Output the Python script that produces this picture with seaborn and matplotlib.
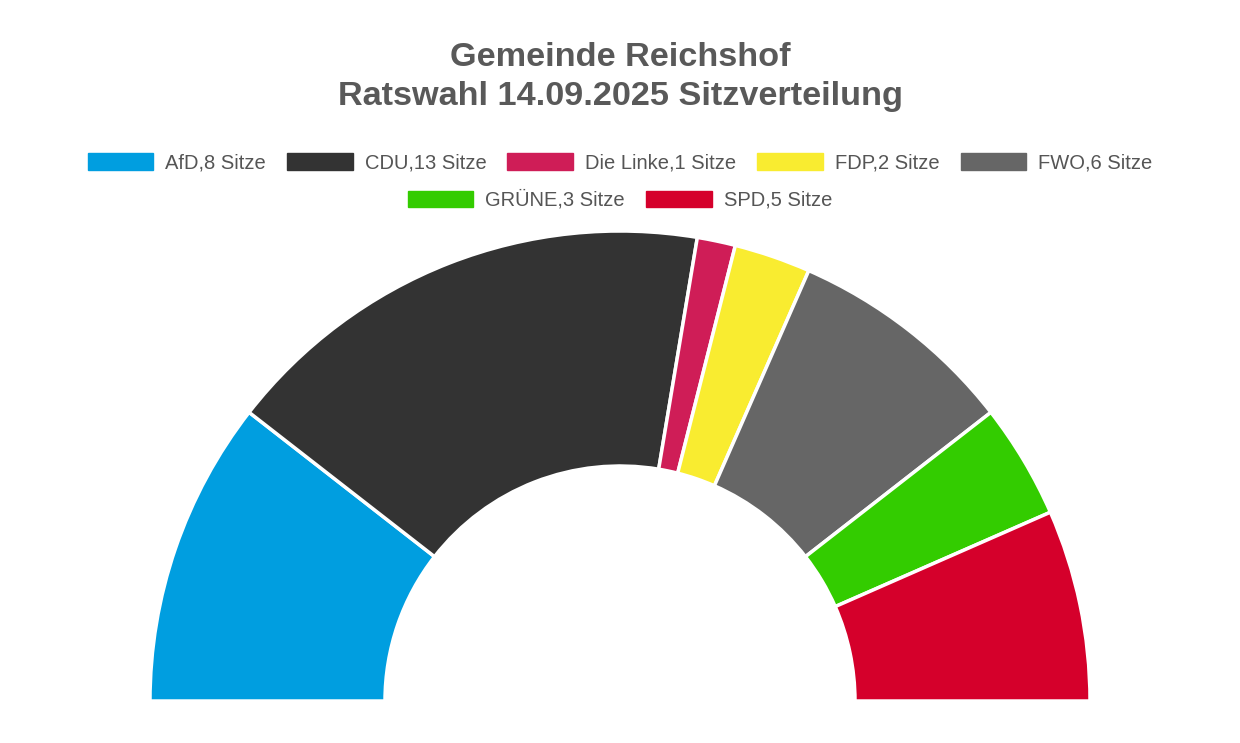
import matplotlib
matplotlib.use('Agg')
import matplotlib.pyplot as plt
import matplotlib.patches as mpatches
import seaborn as sns

# Seat distribution
parties = ['AfD', 'CDU', 'Die Linke', 'FDP', 'FWO', 'GRÜNE', 'SPD']
seats = [8, 13, 1, 2, 6, 3, 5]
colors = ['#009EE0', '#333333', '#CF1D57', '#F9EC30', '#666666', '#33CC00', '#D5002B']
title_lines = ['Gemeinde Reichshof', 'Ratswahl 14.09.2025 Sitzverteilung']

sns.set_theme(style='white')
plt.rcParams['font.family'] = ['Liberation Sans', 'DejaVu Sans']

fig = plt.figure(figsize=(12.4, 7.43), dpi=100)
ax = fig.add_axes([0, 0, 1, 1])

# half donut: add a hidden slice equal to the total for the lower half
values = seats + [sum(seats)]
wedges, _ = ax.pie(values, colors=colors + ['white'], startangle=180, counterclock=False,
                   center=(620, 42), radius=470,
                   wedgeprops=dict(width=235, edgecolor='white', linewidth=2.5))
wedges[-1].set_visible(False)
ax.set_xlim(0, 1240)
ax.set_ylim(0, 743)
ax.set_aspect('equal')
ax.axis('off')

# title
fig.text(0.5, 1 - 57 / 743, title_lines[0], ha='center', va='center',
         fontsize=24.7, fontweight='bold', color='#595959')
fig.text(0.5, 1 - 97 / 743, title_lines[1], ha='center', va='center',
         fontsize=24.7, fontweight='bold', color='#595959')

# legend in two centered rows
handles = [mpatches.Patch(facecolor=c, edgecolor=c) for c in colors]
labels = [f'{p},{s} Sitze' for p, s in zip(parties, seats)]
leg_kw = dict(frameon=False, fontsize=14.5, labelcolor='#555555', handlelength=3.25,
              handleheight=0.85, handletextpad=0.6, columnspacing=1.05, borderpad=0)
leg1 = fig.legend(handles[:5], labels[:5], ncol=5, loc='center',
                  bbox_to_anchor=(0.5, 1 - 163 / 743), **leg_kw)
leg2 = fig.legend(handles[5:], labels[5:], ncol=2, loc='center',
                  bbox_to_anchor=(0.5, 1 - 200 / 743), **leg_kw)

fig.savefig('out.png', dpi=100, facecolor='white')
